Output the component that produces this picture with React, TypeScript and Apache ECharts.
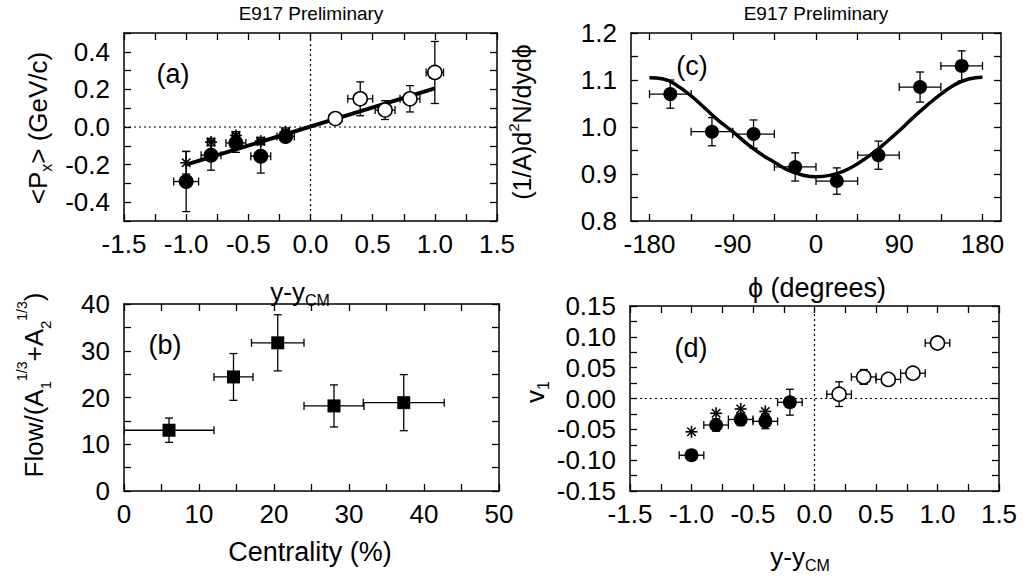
import React, { useEffect, useRef } from 'react';
import * as echarts from 'echarts';

// ---------------- data ----------------
// Panel (a): <Px> vs y - yCM, tuples [x, y, xErr, yErr]
const aFilled = [
  [-1.0, -0.29, 0.1, 0.16],
  [-0.8, -0.15, 0.08, 0.08],
  [-0.6, -0.085, 0.08, 0.05],
  [-0.4, -0.155, 0.08, 0.09],
  [-0.2, -0.05, 0.07, 0.03],
];
const aOpen = [
  [0.2, 0.045, 0.05, 0.02],
  [0.4, 0.15, 0.1, 0.09],
  [0.6, 0.09, 0.08, 0.05],
  [0.8, 0.15, 0.08, 0.07],
  [1.0, 0.29, 0.07, 0.165],
];
const aStars = [
  [-1.0, -0.19, 0, 0.06],
  [-0.8, -0.08, 0.03, 0.02],
  [-0.6, -0.045, 0.03, 0.02],
  [-0.4, -0.075, 0.03, 0.02],
  [-0.2, -0.025, 0.03, 0.02],
];
const aFitX = [-1.0, 1.0];
const aFitY = [-0.2, 0.205];

// Panel (b): Flow vs centrality, [x, y, xErr, yErr]
const bSquares = [
  [6, 13, 6, 2.6],
  [14.6, 24.4, 2.6, 5],
  [20.5, 31.7, 3.5, 6],
  [28, 18.2, 4, 4.5],
  [37.3, 18.9, 5.4, 6],
];

// Panel (c): azimuthal distribution
const cPhi = [-157.5, -112.5, -67.5, -22.5, 22.5, 67.5, 112.5, 157.5];
const cVal = [1.07, 0.99, 0.985, 0.915, 0.885, 0.94, 1.085, 1.13];
const cYErr = [0.03, 0.03, 0.03, 0.03, 0.028, 0.03, 0.032, 0.032];
const cXErr = [22.5, 22.5, 22.5, 22.5, 22.5, 22.5, 22.5, 22.5];
const cCurvePhi = [-180, -165, -150, -135, -120, -105, -90, -75, -60, -45, -30, -15, 0, 15, 30, 45, 60, 75, 90, 105, 120, 135, 150, 165, 180];
const cCurveVal = [1.105, 1.102, 1.088, 1.066, 1.04, 1.013, 0.99, 0.965, 0.943, 0.925, 0.908, 0.898, 0.894, 0.897, 0.906, 0.922, 0.942, 0.966, 0.992, 1.02, 1.046, 1.07, 1.09, 1.102, 1.106];
const cXTicks = [-180, -135, -90, -45, 0, 45, 90, 135, 180];
const cXLabels = [-180, -90, 0, 90, 180];

// Panel (d): v1 vs y - yCM
const dFilled = [
  [-1.0, -0.092, 0.1, 0.008],
  [-0.8, -0.043, 0.1, 0.01],
  [-0.6, -0.034, 0.1, 0.01],
  [-0.4, -0.037, 0.1, 0.012],
  [-0.2, -0.006, 0.1, 0.021],
];
const dStars = [
  [-1.0, -0.054, 0, 0],
  [-0.8, -0.024, 0, 0],
  [-0.6, -0.017, 0, 0],
  [-0.4, -0.021, 0, 0],
];
const dOpen = [
  [0.2, 0.007, 0.1, 0.02],
  [0.4, 0.035, 0.1, 0.012],
  [0.6, 0.031, 0.1, 0.008],
  [0.8, 0.041, 0.1, 0.008],
  [1.0, 0.09, 0.1, 0.007],
];

// ---------------- style helpers ----------------
const FONT = '"Liberation Sans", Arial, Helvetica, sans-serif';
const TICK_FS = 26;

function isMult(v: number, step: number) {
  const k = Math.round(v / step);
  return Math.abs(v - k * step) < step * 1e-3;
}

function makeAxes(g: number, x: any, y: any) {
  const line = { show: true, onZero: false, lineStyle: { color: '#000', width: 1.5 } };
  const tick = (extra: any) => ({ show: true, inside: true, length: 7, lineStyle: { color: '#000', width: 1.3 }, ...extra });
  const lbl = (fmt: any, margin: number, extra: any) => ({
    show: true, color: '#000', fontSize: TICK_FS, fontFamily: FONT, margin, formatter: fmt, ...extra,
  });
  const xBase: any = { type: 'value', gridIndex: g, min: x.min, max: x.max, splitLine: { show: false }, axisLine: line };
  const yBase: any = { type: 'value', gridIndex: g, min: y.min, max: y.max, splitLine: { show: false }, axisLine: line };
  if (x.interval) xBase.interval = x.interval;
  if (y.interval) yBase.interval = y.interval;
  const xTickExtra = x.ticks ? { customValues: x.ticks } : {};
  const xLblExtra = x.labels ? { customValues: x.labels } : {};
  const xAxes = [
    { ...xBase, position: 'bottom', axisTick: tick(xTickExtra), axisLabel: lbl(x.fmt, 10, xLblExtra) },
    { ...xBase, position: 'top', axisTick: tick(xTickExtra), axisLabel: { show: false } },
  ];
  const yAxes = [
    { ...yBase, position: 'left', axisTick: tick({}), axisLabel: lbl(y.fmt, 14, {}) },
    { ...yBase, position: 'right', axisTick: tick({}), axisLabel: { show: false } },
  ];
  return { xAxes, yAxes };
}

function errorSeries(xi: number, yi: number, data: number[][]) {
  return {
    type: 'custom',
    xAxisIndex: xi,
    yAxisIndex: yi,
    clip: true,
    z: 2,
    data,
    encode: { x: 0, y: 1 },
    silent: true,
    renderItem: (_p: any, api: any) => {
      const x = api.value(0), y = api.value(1), xe = api.value(2), ye = api.value(3);
      const style = { stroke: '#000', lineWidth: 1.3, fill: 'none' };
      const cap = 4;
      const ch: any[] = [];
      if (xe > 0) {
        const L = api.coord([x - xe, y]);
        const R = api.coord([x + xe, y]);
        ch.push({ type: 'line', shape: { x1: L[0], y1: L[1], x2: R[0], y2: R[1] }, style });
        ch.push({ type: 'line', shape: { x1: L[0], y1: L[1] - cap, x2: L[0], y2: L[1] + cap }, style });
        ch.push({ type: 'line', shape: { x1: R[0], y1: R[1] - cap, x2: R[0], y2: R[1] + cap }, style });
      }
      if (ye > 0) {
        const T = api.coord([x, y + ye]);
        const B = api.coord([x, y - ye]);
        ch.push({ type: 'line', shape: { x1: T[0], y1: T[1], x2: B[0], y2: B[1] }, style });
        ch.push({ type: 'line', shape: { x1: T[0] - cap, y1: T[1], x2: T[0] + cap, y2: T[1] }, style });
        ch.push({ type: 'line', shape: { x1: B[0] - cap, y1: B[1], x2: B[0] + cap, y2: B[1] }, style });
      }
      return { type: 'group', children: ch };
    },
  };
}

function starSeries(xi: number, yi: number, data: number[][], r: number) {
  return {
    type: 'custom',
    xAxisIndex: xi,
    yAxisIndex: yi,
    clip: true,
    z: 6,
    data,
    encode: { x: 0, y: 1 },
    silent: true,
    renderItem: (_p: any, api: any) => {
      const c = api.coord([api.value(0), api.value(1)]);
      const style = { stroke: '#000', lineWidth: 1.6, fill: 'none' };
      const ch: any[] = [];
      for (let k = 0; k < 4; k++) {
        const a = (k * Math.PI) / 4;
        const dx = Math.sin(a) * r, dy = Math.cos(a) * r;
        ch.push({ type: 'line', shape: { x1: c[0] - dx, y1: c[1] - dy, x2: c[0] + dx, y2: c[1] + dy }, style });
      }
      return { type: 'group', children: ch };
    },
  };
}

function scatter(xi: number, yi: number, data: number[][], symbol: string, size: number, open: boolean) {
  return {
    type: 'scatter',
    xAxisIndex: xi,
    yAxisIndex: yi,
    symbol,
    symbolSize: size,
    z: 5,
    silent: true,
    data: data.map((d) => [d[0], d[1]]),
    itemStyle: open
      ? { color: '#fff', borderColor: '#000', borderWidth: 1.6, opacity: 1 }
      : { color: '#000', borderColor: '#000', borderWidth: 0, opacity: 1 },
  };
}

function refLine(xi: number, yi: number, pts: number[][]) {
  return {
    type: 'line',
    xAxisIndex: xi,
    yAxisIndex: yi,
    data: pts,
    symbol: 'none',
    silent: true,
    z: 1,
    lineStyle: { color: '#000', width: 1.2, type: [2, 3] },
  };
}

function txt(x: number, y: number, text: string, fontSize: number, extra: any = {}) {
  return {
    type: 'text',
    x,
    y,
    silent: true,
    ...extra,
    style: {
      text,
      fontSize,
      fontFamily: FONT,
      fill: '#000',
      textAlign: 'center',
      textVerticalAlign: 'middle',
      align: 'center',
      verticalAlign: 'middle',
      ...(extra.style || {}),
    },
  };
}

const fmt1 = (step: number) => (v: number) => (isMult(v, step) ? (Math.abs(v) < 1e-9 ? 0 : v).toFixed(1) : '');
const fmt2 = (step: number) => (v: number) => (isMult(v, step) ? (Math.abs(v) < 1e-9 ? 0 : v).toFixed(2) : '');
const fmt0 = (step: number) => (v: number) => (isMult(v, step) ? String(Math.round(v)) : '');

export default function App() {
  const ref = useRef<HTMLDivElement>(null);
  useEffect(() => {
    if (!ref.current) return;
    const chart = echarts.init(ref.current, null, { renderer: 'svg' });

    const A = makeAxes(0, { min: -1.5, max: 1.5, interval: 0.25, fmt: fmt1(0.5) }, { min: -0.5, max: 0.5, interval: 0.1, fmt: fmt1(0.2) });
    const B = makeAxes(1, { min: 0, max: 50, interval: 5, fmt: fmt0(10) }, { min: 0, max: 40, interval: 5, fmt: fmt0(10) });
    const C = makeAxes(2, { min: -200, max: 200, ticks: cXTicks, labels: cXLabels, fmt: (v: number) => String(v) }, { min: 0.8, max: 1.2, interval: 0.05, fmt: fmt1(0.1) });
    const D = makeAxes(3, { min: -1.5, max: 1.5, interval: 0.25, fmt: fmt1(0.5) }, { min: -0.15, max: 0.15, interval: 0.025, fmt: fmt2(0.05) });

    const xAxis = [...A.xAxes, ...B.xAxes, ...C.xAxes, ...D.xAxes];
    const yAxis = [...A.yAxes, ...B.yAxes, ...C.yAxes, ...D.yAxes];

    const cPoints = cPhi.map((p, i) => [p, cVal[i], cXErr[i], cYErr[i]]);
    const cCurve = cCurvePhi.map((p, i) => [p, cCurveVal[i]]);

    const series: any[] = [
      // (a)
      refLine(0, 0, [[-1.5, 0], [1.5, 0]]),
      refLine(0, 0, [[0, -0.5], [0, 0.5]]),
      errorSeries(0, 0, aFilled),
      errorSeries(0, 0, aOpen),
      errorSeries(0, 0, aStars),
      {
        type: 'line', xAxisIndex: 0, yAxisIndex: 0, symbol: 'none', silent: true, z: 3,
        data: aFitX.map((x, i) => [x, aFitY[i]]),
        lineStyle: { color: '#000', width: 4 },
      },
      scatter(0, 0, aFilled, 'circle', 15, false),
      scatter(0, 0, aOpen, 'circle', 14, true),
      starSeries(0, 0, aStars, 6),
      // (b)
      errorSeries(2, 2, bSquares),
      scatter(2, 2, bSquares, 'rect', 13, false),
      // (c)
      {
        type: 'line', xAxisIndex: 4, yAxisIndex: 4, symbol: 'none', silent: true, z: 3, smooth: true,
        data: cCurve,
        lineStyle: { color: '#000', width: 3.5 },
      },
      errorSeries(4, 4, cPoints),
      scatter(4, 4, cPoints, 'circle', 14, false),
      // (d)
      refLine(6, 6, [[-1.5, 0], [1.5, 0]]),
      refLine(6, 6, [[0, -0.15], [0, 0.15]]),
      errorSeries(6, 6, dFilled),
      errorSeries(6, 6, dOpen),
      scatter(6, 6, dFilled, 'circle', 14, false),
      scatter(6, 6, dOpen, 'circle', 14, true),
      starSeries(6, 6, dStars, 6),
    ];

    const rich = {
      sub: { fontSize: 16, fontFamily: FONT, lineHeight: 32, verticalAlign: 'bottom', fill: '#000', color: '#000' },
      sup: { fontSize: 15, fontFamily: FONT, lineHeight: 32, verticalAlign: 'top', fill: '#000', color: '#000' },
      subB: { fontSize: 15, fontFamily: FONT, lineHeight: 38, verticalAlign: 'bottom', fill: '#000', color: '#000' },
      supB: { fontSize: 14, fontFamily: FONT, lineHeight: 38, verticalAlign: 'top', fill: '#000', color: '#000' },
    };

    const graphic: any[] = [
      txt(311, 13, 'E917 Preliminary', 19),
      txt(816, 13, 'E917 Preliminary', 19),
      txt(173, 74, '(a)', 27),
      txt(165, 345, '(b)', 27),
      txt(692, 66, '(c)', 27),
      txt(691, 348, '(d)', 27),
      txt(300, 292, 'y-y{sub|CM}', 26, { style: { rich } }),
      txt(817, 288, 'ϕ (degrees)', 27),
      txt(310, 552, 'Centrality (%)', 27),
      txt(800, 557, 'y-y{sub|CM}', 26, { style: { rich } }),
      txt(38, 128, '<P{sub|x}> (GeV/c)', 26, { rotation: Math.PI / 2, style: { rich } }),
      txt(522, 122, '(1/A)d{sup|2}N/dydϕ', 25, { rotation: Math.PI / 2, style: { rich } }),
      txt(34, 385, 'Flow/(A{subB|1}{supB|1/3}+A{subB|2}{supB|1/3})', 26, { rotation: Math.PI / 2, style: { rich } }),
      txt(535, 392, 'v{sub|1}', 26, { rotation: Math.PI / 2, style: { rich } }),
    ];

    chart.setOption({
      animation: false,
      backgroundColor: '#fff',
      grid: [
        { left: 124, top: 33, width: 373, height: 188 },
        { left: 124, top: 304, width: 375, height: 187 },
        { left: 631, top: 33, width: 370, height: 188 },
        { left: 630, top: 306, width: 369, height: 185 },
      ],
      xAxis,
      yAxis,
      series,
      graphic,
    });
    return () => chart.dispose();
  }, []);
  return <div ref={ref} style={{ position: 'fixed', left: 0, top: 0, width: 1024, height: 577, background: '#fff' }} />;
}
